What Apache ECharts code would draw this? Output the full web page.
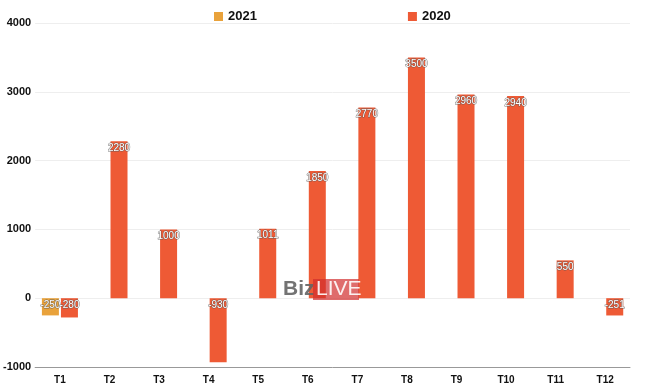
<!DOCTYPE html>
<html><head><meta charset="utf-8">
<script src="https://cdn.jsdelivr.net/npm/echarts@6/dist/echarts.min.js"></script>
<style>html,body{margin:0;padding:0;background:#fff}#c{width:650px;height:390px}</style>
</head><body><div id="c"></div>
<script>
const categories = ['T1','T2','T3','T4','T5','T6','T7','T8','T9','T10','T11','T12'];
const values2021 = [-250, null, null, null, null, null, null, null, null, null, null, null];
const values2020 = [-280, 2280, 1000, -930, 1011, 1850, 2770, 3500, 2960, 2940, 550, -251];
const yTicks = [-1000, 0, 1000, 2000, 3000, 4000];

const font = '"Liberation Sans", Arial, sans-serif';
const labelStyle = {
  show: true, position: 'insideTop', color: '#fff', fontSize: 10, fontFamily: font,
  textBorderColor: 'rgba(90,90,90,0.8)', textBorderWidth: 1, distance: 2
};
const chart = echarts.init(document.getElementById('c'));
chart.setOption({
  animation: false,
  legend: {
    top: 5, left: 209, itemWidth: 9, itemHeight: 9, itemGap: 151, icon: 'rect',
    textStyle: { fontFamily: font, fontWeight: 'bold', fontSize: 13, color: '#111' },
    data: ['2021', '2020']
  },
  grid: { left: 35, right: 20, top: 23, bottom: 23, containLabel: false },
  xAxis: {
    type: 'category', data: categories,
    axisLine: { onZero: false, lineStyle: { color: '#999' } },
    axisTick: { show: false },
    axisLabel: { fontFamily: font, fontWeight: 'bold', fontSize: 10, color: '#111', margin: 8 }
  },
  yAxis: {
    type: 'value', min: yTicks[0], max: yTicks[yTicks.length - 1], interval: 1000,
    axisLine: { show: false }, axisTick: { show: false },
    splitLine: { lineStyle: { color: '#eee' } },
    axisLabel: { fontFamily: font, fontWeight: 'bold', fontSize: 11, color: '#111', margin: 4,
      formatter: v => String(v) }
  },
  series: [
    { name: '2021', type: 'bar', data: values2021, barWidth: 17, barGap: '12%',
      itemStyle: { color: '#E9A23B' }, label: labelStyle },
    { name: '2020', type: 'bar', data: values2020, barWidth: 17,
      itemStyle: { color: '#EE5A35' }, label: labelStyle }
  ],
  graphic: [
    { type: 'text', left: 283, top: 279, z: 100, style: { text: 'Biz', fill: 'rgba(100,100,100,0.9)', font: 'bold 21px "Liberation Sans", Arial, sans-serif' } },
    { type: 'rect', left: 313, top: 279, z: 100, shape: { width: 46, height: 21 }, style: { fill: 'rgba(210,45,45,0.7)' } },
    { type: 'text', left: 316, top: 279, z: 101, style: { text: 'LIVE', fill: 'rgba(255,255,255,0.9)', font: '21px "Liberation Sans", Arial, sans-serif' } }
  ]
});
</script></body></html>
